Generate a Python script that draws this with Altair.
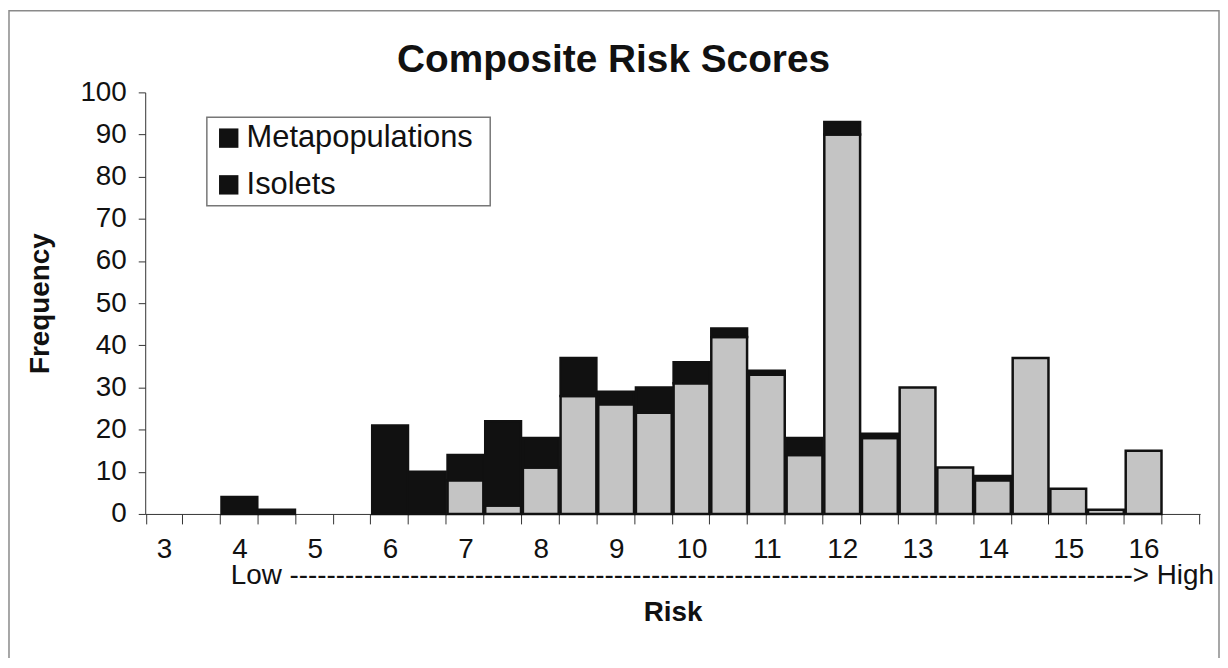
import altair as alt
import pandas as pd

# ---- data ----
risk = [3, 3.5, 4, 4.5, 5, 5.5, 6, 6.5, 7, 7.5, 8, 8.5, 9, 9.5, 10, 10.5,
        11, 11.5, 12, 12.5, 13, 13.5, 14, 14.5, 15, 15.5, 16, 16.5]
isolets = [0, 0, 0, 0, 0, 0, 0, 0, 8, 2, 11, 28, 26, 24, 31, 42,
           33, 14, 90, 18, 30, 11, 8, 37, 6, 1, 15, 0]
metapopulations = [0, 0, 4, 1, 0, 0, 21, 10, 6, 20, 7, 9, 3, 6, 5, 2,
                   1, 4, 3, 1, 0, 0, 1, 0, 0, 0, 0, 0]
series = ["Metapopulations", "Isolets"]
series_colors = ["#111111", "#c4c4c4"]
y_ticks = list(range(0, 101, 10))
chart_title = "Composite Risk Scores"
x_title = "Risk"
y_title = "Frequency"
scale_note = "Low " + "-" * 91 + "> High"

FONT = "Liberation Sans"

rows = []
for r, iso, meta in zip(risk, isolets, metapopulations):
    rows.append({"risk": r, "series": "Isolets", "count": iso, "ord": 0})
    rows.append({"risk": r, "series": "Metapopulations", "count": meta, "ord": 1})
df = pd.DataFrame(rows)

W, H = 1061, 424

bars = alt.Chart(df).transform_filter("datum.count > 0").mark_bar(
    stroke="#111111", strokeWidth=2.5
).encode(
    x=alt.X(
        "risk:O",
        scale=alt.Scale(domain=risk, paddingInner=0.05, paddingOuter=0.025),
        axis=alt.Axis(
            title=x_title,
            labelExpr="datum.value % 1 == 0 ? datum.label : ''",
            labelAngle=0,
            tickBand="extent",
            tickSize=10,
            tickColor="#333333",
            domainColor="#333333",
            labelFontSize=28,
            labelFont=FONT,
            labelColor="#111111",
            labelPadding=12,
            titleFont=FONT,
            titleFontSize=28,
            titleFontWeight="bold",
            titleColor="#111111",
            titlePadding=35,
        ),
    ),
    y=alt.Y(
        "count:Q",
        stack="zero",
        scale=alt.Scale(domain=[0, 100], nice=False),
        axis=alt.Axis(
            values=y_ticks,
            title=y_title,
            grid=False,
            tickSize=7,
            tickColor="#333333",
            domainColor="#333333",
            labelFontSize=28,
            labelFont=FONT,
            labelColor="#111111",
            labelPadding=12,
            titleFont=FONT,
            titleFontSize=28,
            titleFontWeight="bold",
            titleColor="#111111",
            titlePadding=26,
        ),
    ),
    color=alt.Color("series:N", scale=alt.Scale(domain=series, range=series_colors), legend=None),
    order=alt.Order("ord:Q", sort="ascending"),
)

one = pd.DataFrame({"k": [0]})

border = alt.Chart(one).mark_rect(fill=None, stroke="#8a8a8a", strokeWidth=1.5).encode(
    x=alt.value(-137), x2=alt.value(1080), y=alt.value(-82), y2=alt.value(700)
)

title = alt.Chart(one).mark_text(
    font=FONT, fontSize=39, fontWeight="bold", align="center", baseline="middle", color="#111111"
).encode(x=alt.value(471), y=alt.value(-33), text=alt.value(chart_title))

note = alt.Chart(one).mark_text(
    font=FONT, fontSize=28, align="left", baseline="middle", color="#111111"
).encode(x=alt.value(86), y=alt.value(486), text=alt.value(scale_note))

# legend (manual, swatches appear black in the reference)
leg_df = pd.DataFrame({"series": series, "row": [0, 1]})
row_scale = alt.Scale(domain=[0, 1], range=[46, 93])
leg_box = alt.Chart(one).mark_rect(fill="white", stroke="#777777", strokeWidth=1.5).encode(
    x=alt.value(62), x2=alt.value(347), y=alt.value(25), y2=alt.value(114)
)
leg_sym = alt.Chart(leg_df).mark_square(size=380, color="#111111", opacity=1).encode(
    x=alt.value(84), y=alt.Y("row:Q", scale=row_scale, axis=None)
)
leg_txt = alt.Chart(leg_df).mark_text(
    font=FONT, fontSize=31, align="left", baseline="middle", color="#111111"
).encode(
    x=alt.value(102), y=alt.Y("row:Q", scale=row_scale, axis=None), text="series:N"
)

legend = alt.layer(leg_box, leg_sym, leg_txt)

chart = alt.layer(border, bars, title, note, legend).resolve_scale(y="independent").properties(
    width=W,
    height=H,
    autosize=alt.AutoSizeParams(type="none"),
    padding={"left": 138, "top": 83, "right": 20, "bottom": 143},
    background="white",
).configure_view(stroke=None)

chart.save("out.html", embed_options={"renderer": "svg", "actions": False})
